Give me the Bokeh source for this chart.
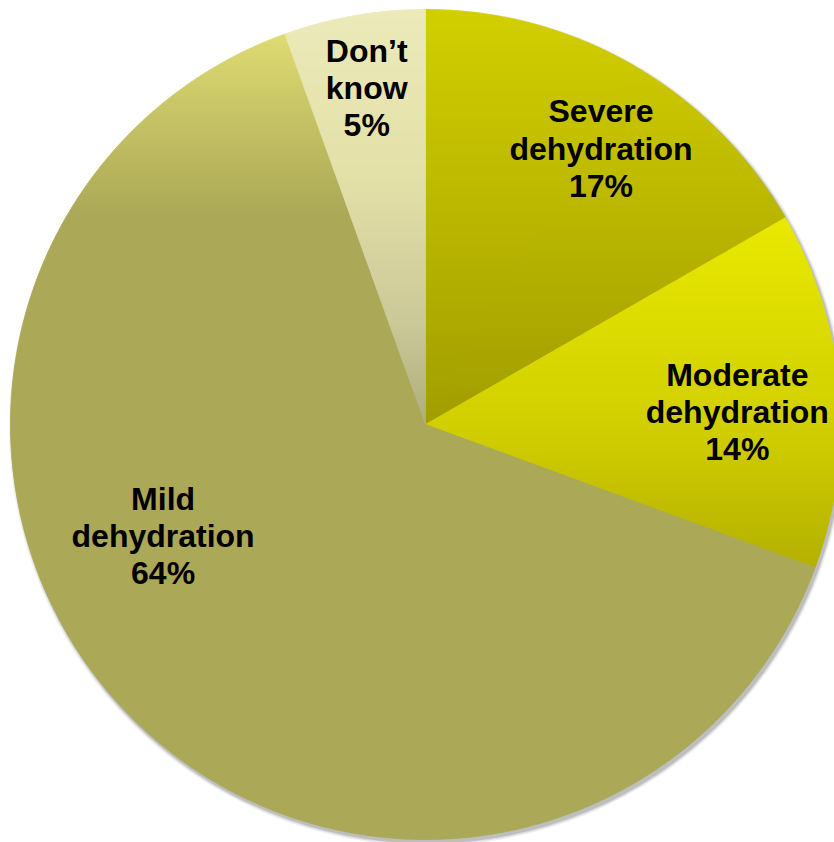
import numpy as np
from bokeh.plotting import figure
from bokeh.models import Range1d, ColumnDataSource
from bokeh.core.properties import value
from bokeh.embed import file_html
from bokeh.resources import INLINE

# ---- data ----
categories = ["Severe\ndehydration", "Moderate\ndehydration", "Mild\ndehydration", "Don\u2019t\nknow"]
label_percents = [17, 14, 64, 5]          # as printed on the slices
slice_shares = [16.7, 13.9, 63.9, 5.5]    # slice sizes as drawn

# ---- style ----
W, H = 834, 842
CX, CY, R = 425.0, 424.0, 415.0
# vertical gradient stops per slice: (fraction of pie height from top, colour)
grad_stops = [
    [(0.0, "#D2CF00"), (0.5, "#A19D00")],
    [(0.25, "#E9E900"), (0.5, "#D2CF00"), (0.68, "#B2AF00")],
    [(0.03, "#DFDC74"), (0.12, "#C8C566"), (0.25, "#ABA857"), (1.0, "#ABA857")],
    [(0.0, "#ECEAB9"), (0.2, "#E3E0A8"), (0.38, "#CBC898"), (0.5, "#B0AD7C")],
]
label_r = [0.788, 0.752, 0.687, 0.824]
label_da = [2.4, 2.5, 21.8, 0.0]


def hex2rgb(h):
    h = h.lstrip("#")
    return np.array([int(h[i:i + 2], 16) for i in (0, 2, 4)], dtype=float)


def color_at(stops, t):
    if t <= stops[0][0]:
        c = hex2rgb(stops[0][1])
    elif t >= stops[-1][0]:
        c = hex2rgb(stops[-1][1])
    else:
        for (t0, c0), (t1, c1) in zip(stops[:-1], stops[1:]):
            if t0 <= t <= t1:
                f = (t - t0) / (t1 - t0) if t1 > t0 else 0
                c = hex2rgb(c0) * (1 - f) + hex2rgb(c1) * f
                break
    c = np.clip(np.round(c), 0, 255).astype(int)
    return "#%02x%02x%02x" % tuple(c)


def wedge_poly(a0, a1):
    n = max(2, int(np.ceil((a1 - a0) / 0.5)) + 1)
    a = np.radians(np.linspace(a0, a1, n))
    xs = [CX] + list(CX + R * np.sin(a))
    ys = [CY] + list(CY - R * np.cos(a))
    return list(zip(xs, ys))


def clip_half(poly, yb, keep_above):
    out = []
    if not poly:
        return out
    def inside(p):
        return p[1] >= yb if keep_above else p[1] <= yb
    for i in range(len(poly)):
        cur = poly[i]
        prev = poly[i - 1]
        ci, pi = inside(cur), inside(prev)
        if ci:
            if not pi:
                f = (yb - prev[1]) / (cur[1] - prev[1])
                out.append((prev[0] + f * (cur[0] - prev[0]), yb))
            out.append(cur)
        elif pi:
            f = (yb - prev[1]) / (cur[1] - prev[1])
            out.append((prev[0] + f * (cur[0] - prev[0]), yb))
    return out


p = figure(width=W, height=H, x_range=Range1d(0, W), y_range=Range1d(H, 0),
           output_backend="svg", toolbar_location=None, min_border=0,
           outline_line_color=None, background_fill_color="white",
           border_fill_color="white")
p.axis.visible = False
p.grid.visible = False

# soft shadow
for dr, al in [(3.5, 0.10), (2.2, 0.18), (1.0, 0.30)]:
    p.circle(x=[CX + 2], y=[CY + 3], radius=R + dr, fill_color="#7a7a7a",
             fill_alpha=al, line_color=None)

xs_all, ys_all, cols = [], [], []
total = float(sum(slice_shares))
start = 0.0
band = 3.0
top = CY - R
for i, v in enumerate(slice_shares):
    a0 = start
    a1 = start + 360.0 * v / total
    start = a1
    nsub = int(np.ceil((a1 - a0) / 40.0))
    edges = np.linspace(a0, a1, nsub + 1)
    for s0, s1 in zip(edges[:-1], edges[1:]):
        poly = wedge_poly(s0, s1)
        ymin = min(q[1] for q in poly)
        ymax = max(q[1] for q in poly)
        yb = np.floor(ymin)
        while yb < ymax:
            piece = clip_half(poly, yb, True)
            piece = clip_half(piece, yb + band, False)
            if len(piece) >= 3:
                t = ((yb + band / 2) - top) / (2 * R)
                xs_all.append([q[0] for q in piece])
                ys_all.append([q[1] for q in piece])
                cols.append(color_at(grad_stops[i], t))
            yb += band

src = ColumnDataSource(dict(xs=xs_all, ys=ys_all, c=cols))
p.patches("xs", "ys", source=src, fill_color="c", line_color="c", line_width=0.8)

# labels
lx, ly, lt = [], [], []
start = 0.0
for i, v in enumerate(slice_shares):
    span = 360.0 * v / total
    mid = np.radians(start + span / 2 + label_da[i])
    start += span
    lx.append(CX + label_r[i] * R * np.sin(mid))
    ly.append(CY - label_r[i] * R * np.cos(mid))
    lt.append("%s\n%d%%" % (categories[i], label_percents[i]))

p.text(x=lx, y=ly, text=lt, text_align="center", text_baseline="middle",
       text_font=value("Liberation Sans"), text_font_style="bold",
       text_font_size="32px", text_color="black", text_line_height=1.03)

open("out.html", "w").write(file_html(p, INLINE))
